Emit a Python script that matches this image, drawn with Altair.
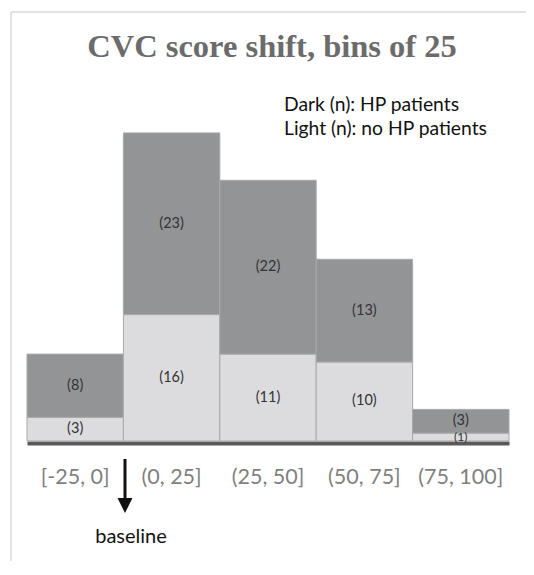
import altair as alt
import pandas as pd

bins = ["[-25, 0]", "(0, 25]", "(25, 50]", "(50, 75]", "(75, 100]"]
no_hp = [3, 16, 11, 10, 1]
hp = [8, 23, 22, 13, 3]
group_names = ["no HP", "HP"]
group_colors = ["#dcdcde", "#939496"]

rows = []
for b, l, d in zip(bins, no_hp, hp):
    rows.append(dict(bin=b, group="no HP", n=l, lo=0, hi=l))
    rows.append(dict(bin=b, group="HP", n=d, lo=l, hi=l + d))
df = pd.DataFrame(rows)
df["mid"] = (df["lo"] + df["hi"]) / 2
df["label"] = ["(%d)" % v for v in df["n"]]
df["fs"] = [12 if v < 2 else 14.5 for v in df["n"]]

x_enc = alt.X("bin:N", sort=bins, title=None,
              scale=alt.Scale(paddingInner=0, paddingOuter=0),
              axis=alt.Axis(ticks=False, labelFontSize=21.5, labelFont="Lato",
                            labelColor="#7f7f7f", labelPadding=34,
                            labelBaseline="middle", labelAngle=0,
                            domainColor="#595959", domainWidth=4, offset=2,
                            grid=False))
y_scale = alt.Scale(domain=[0, 54.3], nice=False)

base = alt.Chart(df)
bars = base.mark_bar(stroke="#a9a9a9", strokeWidth=1).encode(
    x=x_enc,
    y=alt.Y("lo:Q", scale=y_scale, axis=None),
    y2="hi:Q",
    color=alt.Color("group:N", scale=alt.Scale(domain=group_names, range=group_colors), legend=None),
)
labels = base.mark_text(font="Lato", color="#333333", baseline="middle").encode(
    x=alt.X("bin:N", sort=bins),
    y=alt.Y("mid:Q", scale=y_scale),
    text="label:N",
    size=alt.Size("fs:Q", scale=None),
)

title_txt = ["CVC score shift, bins of 25"]
legend_lines = ["Dark (n): HP patients", "Light (n): no HP patients"]
baseline_txt = ["baseline"]

title = alt.Chart(pd.DataFrame({"t": title_txt})).mark_text(
    font="Liberation Serif", fontWeight="bold", fontSize=32.5, color="#6b6b6b",
    align="center", baseline="alphabetic"
).encode(x=alt.value(245), y=alt.value(45), text="t:N")

leg1 = alt.Chart(pd.DataFrame({"t": legend_lines[:1]})).mark_text(
    font="Lato", fontSize=19.3, color="#111111", align="left", baseline="alphabetic"
).encode(x=alt.value(257), y=alt.value(99), text="t:N")
leg2 = alt.Chart(pd.DataFrame({"t": legend_lines[1:]})).mark_text(
    font="Lato", fontSize=19.3, color="#111111", align="left", baseline="alphabetic"
).encode(x=alt.value(257), y=alt.value(123), text="t:N")

base_lbl = alt.Chart(pd.DataFrame({"t": baseline_txt})).mark_text(
    font="Lato", fontSize=20, color="#111111", align="center", baseline="middle"
).encode(x=alt.value(104), y=alt.value(525), text="t:N")

arrow_shaft = alt.Chart(pd.DataFrame({"t": baseline_txt})).mark_rule(
    color="#111111", strokeWidth=3
).encode(x=alt.value(98), y=alt.value(447), y2=alt.value(489))
arrow_head = alt.Chart(pd.DataFrame({"t": baseline_txt})).mark_point(
    shape="M-1,-1L1,-1L0,1Z", filled=True, color="#111111", opacity=1, size=225
).encode(x=alt.value(98), y=alt.value(493.5))

frame_left = alt.Chart(pd.DataFrame({"t": baseline_txt})).mark_rule(
    color="#d9d9d9", strokeWidth=1.5
).encode(x=alt.value(-16), y=alt.value(0), y2=alt.value(600))
frame_top = alt.Chart(pd.DataFrame({"t": baseline_txt})).mark_rule(
    color="#d9d9d9", strokeWidth=1.5
).encode(x=alt.value(-16), x2=alt.value(540), y=alt.value(0))

chart = alt.layer(
    frame_left, frame_top, bars, labels, title, leg1, leg2, arrow_shaft, arrow_head, base_lbl
).properties(
    width=482, height=429,
    autosize=alt.AutoSizeParams(type="none"),
    padding={"left": 19, "top": 4, "right": 17, "bottom": 120},
).configure_view(stroke=None)

chart.save("out.html", embed_options={"renderer": "svg", "actions": False})
